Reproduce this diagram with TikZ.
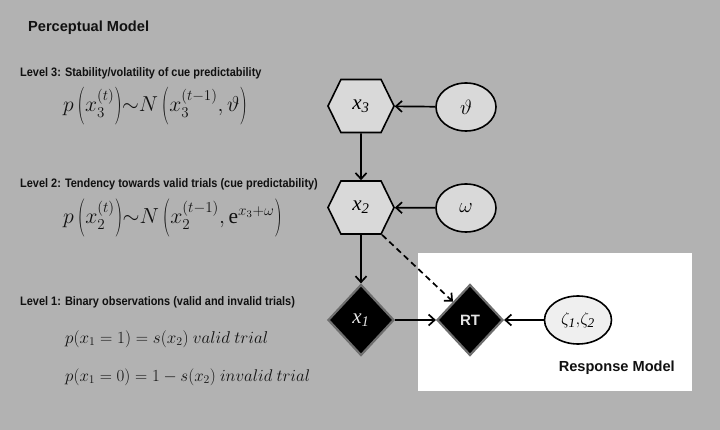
\documentclass[tikz,border=0pt]{standalone}
\usepackage{fontspec}
\setmainfont{Liberation Serif}
\setsansfont{Liberation Sans}
\newfontfamily\narrowsans[FakeStretch=0.89]{Liberation Sans}
\usepackage{amsmath}
\usepackage{graphicx}
\usetikzlibrary{shapes.geometric,shapes.symbols,arrows.meta}
\newcommand{\tallL}{\mathopen{\vcenter{\hbox{\scalebox{1}[1.75]{$($}}}}}
\newcommand{\tallR}{\mathclose{\vcenter{\hbox{\scalebox{1}[1.75]{$)$}}}}}
\definecolor{bggray}{HTML}{B2B2B2}
\definecolor{shapefill}{HTML}{D9D9D9}
\definecolor{zetafill}{HTML}{EFEFEF}
\definecolor{diaborder}{HTML}{6E6E6E}
\definecolor{diatext}{HTML}{E4E4E4}
\definecolor{txt}{HTML}{111111}
\begin{document}
\begin{tikzpicture}[x=1pt,y=-1pt,
  hexnode/.style={shape=signal, signal to=east and west, signal pointer angle=128,
    minimum width=66pt, minimum height=53pt, inner sep=0pt, fill=shapefill, draw=black,
    line width=1.6pt, font=\fontsize{21}{21}\selectfont\itshape},
  ellnode/.style={ellipse, minimum width=60pt, minimum height=48pt, inner sep=0pt,
    fill=shapefill, draw=black, line width=1.6pt, font=\fontsize{20}{20}\selectfont},
  dianode/.style={diamond, minimum width=66pt, minimum height=71pt, inner sep=0pt,
    fill=black, draw=diaborder, line width=2.2pt, text=diatext},
  arr/.style={line width=1.7pt, -{Straight Barb[length=6pt,width=11pt,line width=1.7pt]}},
  title/.style={font=\sffamily\bfseries\fontsize{14.6}{16}\selectfont, inner sep=0pt, text=txt},
  lvl/.style={font=\narrowsans\bfseries\fontsize{12.3}{14}\selectfont, inner sep=0pt, anchor=west, text=txt},
  eqn/.style={inner sep=0pt, anchor=west, font=\fontsize{17}{20}\selectfont, text=txt}
]
\fill[bggray] (0,0) rectangle (720,430);
\useasboundingbox (0,0) rectangle (720,430);
\fill[white] (418,253) rectangle (692,391);

\node[title, anchor=west] (pm) at (28,28) {Perceptual Model};

\node[lvl] (l3) at (20,73) {Level 3: Stability/volatility of cue predictability};
\node[eqn] (e3) at (63,106) {\resizebox{184pt}{!}{$p\,\tallL x_3^{(t)}\tallR{\sim}N\,\tallL x_3^{(t-1)},\vartheta\tallR$}};

\node[lvl] (l2) at (20,184) {Level 2: Tendency towards valid trials (cue predictability)};
\node[eqn] (e2) at (63,218) {\resizebox{219pt}{!}{$p\,\tallL x_2^{(t)}\tallR{\sim}N\,\tallL x_2^{(t-1)},\mathrm{e}^{x_3+\omega}\tallR$}};

\node[lvl] (l1) at (20,302.5) {Level 1: Binary observations (valid and invalid trials)};
\node[eqn] (e1a) at (65,339) {\resizebox{203pt}{!}{$p(x_1=1)=s(x_2)\ valid\ trial$}};
\node[eqn] (e1b) at (65,377) {\resizebox{245pt}{!}{$p(x_1=0)=1-s(x_2)\ invalid\ trial$}};

\node[hexnode] (x3) at (361,106) {x\textsubscript{3}};
\node[hexnode] (x2) at (361,207.5) {x\textsubscript{2}};
\node[ellnode] (th) at (466,107) {$\vartheta$};
\node[ellnode] (om) at (466,208) {$\omega$};
\node[dianode, font=\fontsize{21}{21}\selectfont\itshape] (x1) at (361,320) {x\textsubscript{1}};
\node[dianode, font=\sffamily\bfseries\fontsize{15}{15}\selectfont] (rt) at (470,320) {RT};
\node[ellnode, fill=zetafill, minimum width=67pt, font=\fontsize{19}{19}\selectfont] (ze) at (578,320) {$\zeta_{\mathit{1}}{,}\zeta_{\mathit{2}}$};
\node[title, anchor=east] (resp) at (675,368) {Response Model};

\draw[arr] (th) -- (x3);
\draw[arr] (om) -- (x2);
\draw[arr] (x3) -- (x2);
\draw[arr] (x2) -- (x1);
\draw[arr] (x1) -- (rt);
\draw[arr] (ze) -- (rt);
\draw[arr, dash pattern=on 6pt off 4pt] ([xshift=21pt]x2.south) -- (rt.north west);
\end{tikzpicture}
\end{document}
